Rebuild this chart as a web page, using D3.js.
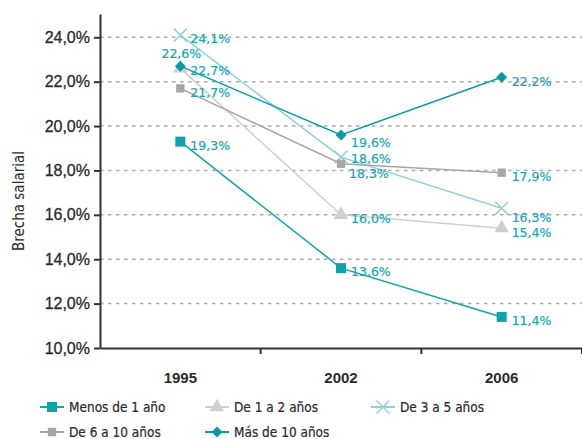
<!DOCTYPE html>
<html>
<head>
<meta charset="utf-8">
<script src="https://cdn.jsdelivr.net/npm/d3@7"></script>
<style>
  body { margin: 0; background: #fff; }
  svg { font-family: "DejaVu Sans Condensed", "DejaVu Sans", sans-serif; }
</style>
</head>
<body>
<svg id="chart" width="582" height="439"></svg>
<script>
// Data
const years = ['1995', '2002', '2006'];
const seriesNames = ['Menos de 1 año', 'De 1 a 2 años', 'De 3 a 5 años', 'De 6 a 10 años', 'Más de 10 años'];
const menos1 = [19.3, 13.6, 11.4];
const de1a2 = [22.6, 16.0, 15.4];
const de3a5 = [24.1, 18.6, 16.3];
const de6a10 = [21.7, 18.3, 17.9];
const mas10 = [22.7, 19.6, 22.2];
const yTicks = [10, 12, 14, 16, 18, 20, 22, 24];

// Styles
const styles = [
    { color: '#0fa3ad', symbol: d3.symbolSquare, size: 100 },
    { color: '#cfcfcf', symbol: d3.symbolTriangle, size: 90 },
    { color: '#8fd2d9', symbol: d3.symbolX, size: 110, cross: true },
    { color: '#a6a6a8', symbol: d3.symbolSquare, size: 70 },
    { color: '#0a9aa8', symbol: d3.symbolSquare, size: 60, rotate: 45 }
];
const labelColor = '#16a5b2';

// label nudges [series-year] -> [dx, dy, anchor]
const nudges = {
    '1-0': [1, -15, 'middle'],
    '4-1': [10, 8],
    '3-1': [8, 10],
    '2-1': [10, 1.5],
    '2-2': [10, 9]
};

const series = [menos1, de1a2, de3a5, de6a10, mas10].map((values, i) => ({
    name: seriesNames[i],
    values: values.map((v, j) => ({ year: years[j], value: v, s: i, j }))
}));

const svg = d3.select('#chart');
const margin = { left: 100, right: 0, top: 14, bottom: 91 };
const width = 582, height = 439;

const x = d3.scaleBand().domain(years).range([margin.left, width - margin.right]);
const y = d3.scaleLinear().domain([10, 25.05]).range([height - margin.bottom, margin.top]);

const fmt = d => d.toFixed(1).replace('.', ',') + '%';

// grid
svg.append('g')
    .selectAll('line')
    .data(yTicks.filter(d => d > 10))
    .join('line')
    .attr('x1', margin.left).attr('x2', width)
    .attr('y1', d => y(d)).attr('y2', d => y(d))
    .attr('stroke', '#acacac')
    .attr('stroke-width', 1.5)
    .attr('stroke-dasharray', '3.5,4.5');

// y axis
const gY = svg.append('g')
    .attr('transform', `translate(${margin.left},0)`)
    .call(d3.axisLeft(y).tickValues(yTicks).tickFormat(fmt).tickSize(6).tickSizeOuter(0));
gY.select('.domain').attr('stroke', '#333').attr('stroke-width', 2);
gY.selectAll('.tick line').attr('stroke', '#333').attr('stroke-width', 2);
gY.selectAll('.tick text')
    .attr('x', -10)
    .attr('fill', '#2b2b2b')
    .attr('stroke', '#2b2b2b')
    .attr('stroke-width', 0.3)
    .style('font-size', '16px');

// x axis
const baseY = y(10);
const gX = svg.append('g')
    .attr('transform', `translate(0,${baseY})`)
    .call(d3.axisBottom(x).tickSize(0).tickPadding(24));
gX.select('.domain').attr('stroke', '#333').attr('stroke-width', 2);
gX.selectAll('.tick text')
    .attr('fill', '#2b2b2b')
    .style('font-size', '15px')
    .style('font-weight', 'bold');
gX.selectAll('line.bound')
    .data(years.map((d, i) => x.range()[0] + x.step() * (i + 1)))
    .join('line')
    .attr('class', 'bound')
    .attr('x1', d => d).attr('x2', d => d)
    .attr('y1', 0).attr('y2', 6)
    .attr('stroke', '#333').attr('stroke-width', 2);

// y title
svg.append('text')
    .attr('transform', `translate(24,${(margin.top + baseY) / 2 + 20}) rotate(-90)`)
    .attr('text-anchor', 'middle')
    .attr('fill', '#2b2b2b')
    .style('font-size', '15px')
    .text('Brecha salarial');

const cx = d => x(d.year) + x.bandwidth() / 2;
const line = d3.line().x(cx).y(d => y(d.value));

function marker(sel, st) {
    sel.attr('d', d3.symbol(st.symbol, st.size))
        .attr('fill', st.cross ? 'none' : st.color)
        .attr('stroke', st.cross ? st.color : 'none')
        .attr('stroke-width', 1.5);
}

const gSeries = svg.append('g');
series.forEach((s, i) => {
    const st = styles[i];
    const g = gSeries.append('g');
    g.append('path')
        .datum(s.values)
        .attr('d', line)
        .attr('fill', 'none')
        .attr('stroke', st.color)
        .attr('stroke-width', 1.5);
    g.selectAll('path.m')
        .data(s.values)
        .join('path')
        .attr('class', 'm')
        .attr('transform', d => `translate(${cx(d)},${y(d.value)}) rotate(${st.rotate || 0})`)
        .call(marker, st);
});

// labels
const labels = series.flatMap(s => s.values);
svg.append('g')
    .selectAll('text')
    .data(labels)
    .join('text')
    .each(function (d) {
        const n = nudges[`${d.s}-${d.j}`] || [10, 4, 'start'];
        d3.select(this)
            .attr('x', cx(d) + n[0])
            .attr('y', y(d.value) + n[1])
            .attr('text-anchor', n[2] || 'start');
    })
    .attr('dy', '0.35em')
    .attr('fill', labelColor)
    .attr('stroke', labelColor)
    .attr('stroke-width', 0.2)
    .style('font-family', '"DejaVu Sans", sans-serif')
    .style('font-size', '12.5px')
    .text(d => fmt(d.value));

// legend
const legendPos = [[40, 407], [205, 407], [371, 407], [40, 432], [205, 432]];
const lg = svg.append('g')
    .selectAll('g')
    .data(series)
    .join('g')
    .attr('transform', (d, i) => `translate(${legendPos[i][0]},${legendPos[i][1]})`);
lg.append('line')
    .attr('x1', 0).attr('x2', 24)
    .attr('stroke', (d, i) => styles[i].color)
    .attr('stroke-width', 2);
lg.append('path')
    .each(function (d, i) {
        d3.select(this)
            .attr('transform', `translate(12,0) rotate(${styles[i].rotate || 0})`)
            .call(marker, styles[i]);
    });
lg.append('text')
    .attr('x', 29)
    .attr('dy', '0.35em')
    .attr('fill', '#2b2b2b')
    .attr('stroke', '#2b2b2b')
    .attr('stroke-width', 0.2)
    .style('font-size', '13.5px')
    .text(d => d.name);
</script>
</body>
</html>
